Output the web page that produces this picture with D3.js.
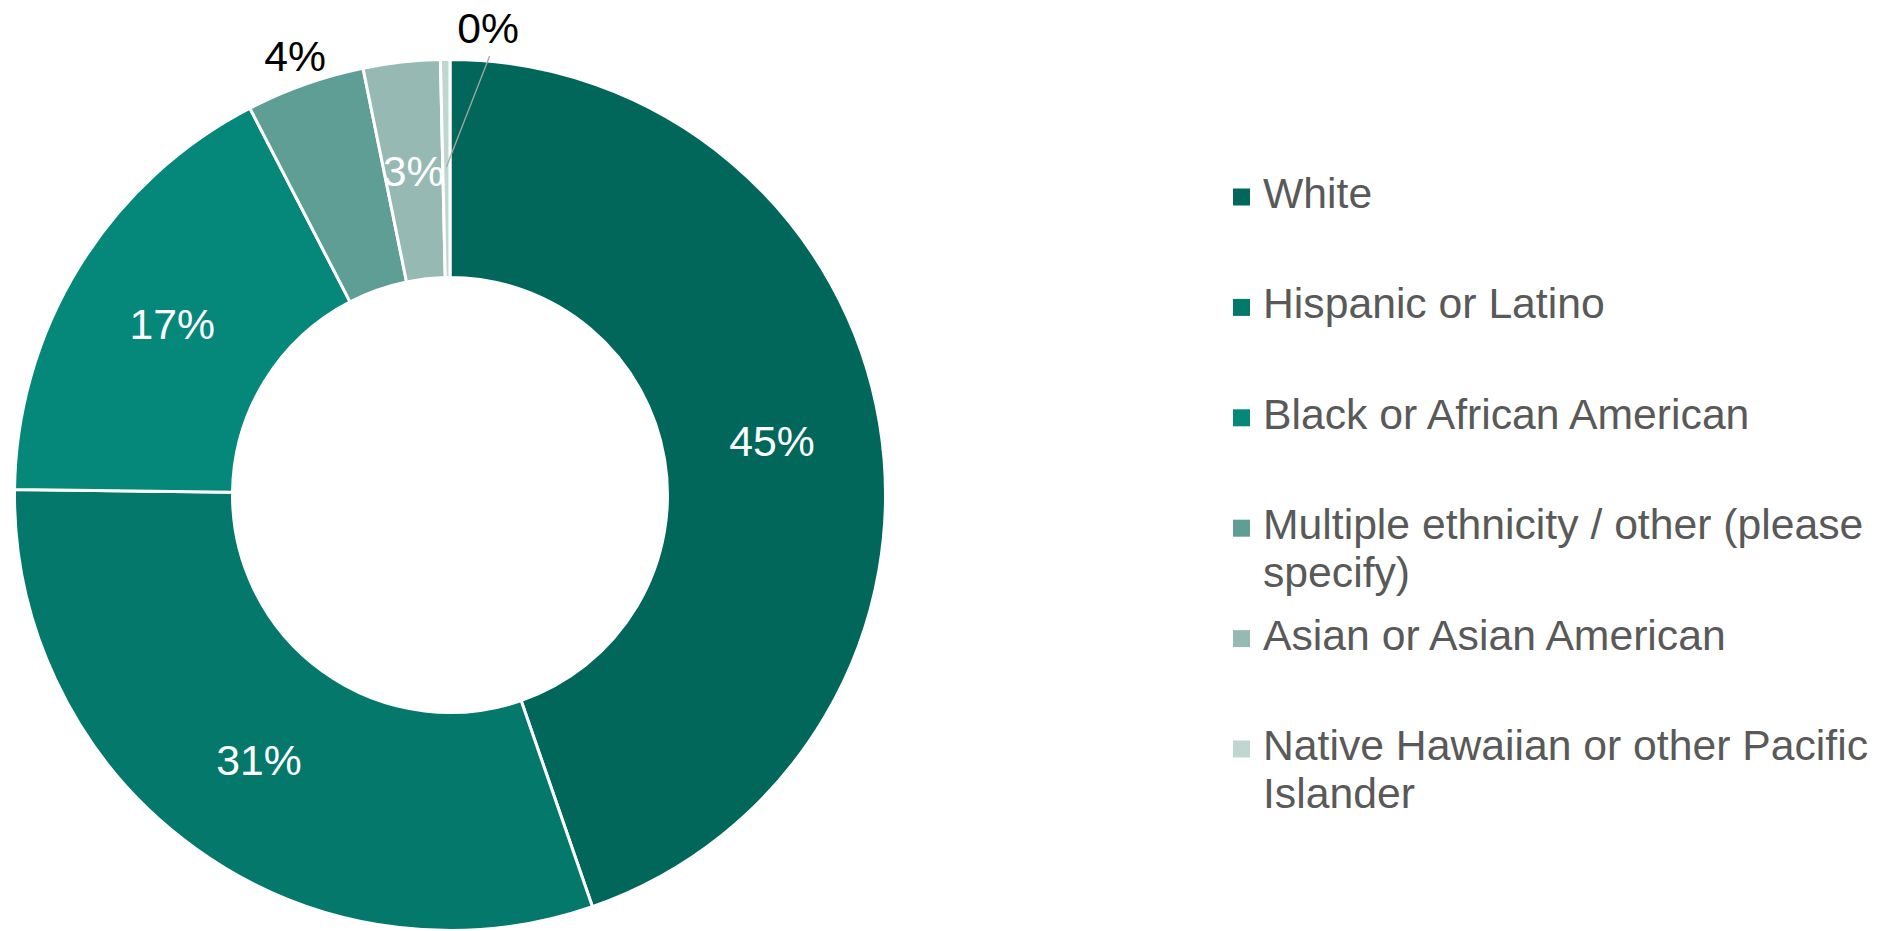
<!DOCTYPE html>
<html>
<head>
<meta charset="utf-8">
<script src="https://cdn.jsdelivr.net/npm/d3@7"></script>
<style>
  html, body { margin: 0; padding: 0; background: #ffffff; }
  svg { display: block; font-family: "Liberation Sans", Arial, sans-serif; }
</style>
</head>
<body>
<svg id="chart" width="1898" height="931"></svg>
<script>
// Respondent ethnicity breakdown (percent of respondents)
const categories = [
  "White",
  "Hispanic or Latino",
  "Black or African American",
  "Multiple ethnicity / other (please specify)",
  "Asian or Asian American",
  "Native Hawaiian or other Pacific Islander"
];
const shares = [44.7, 30.5, 17.2, 4.4, 2.85, 0.35];
const sliceColors = ["#02675B", "#03786B", "#05877A", "#5E9E94", "#97B9B3", "#C0D6D1"];
// how each value label sits relative to its slice
const labelModes = ["inside", "inside", "inside", "outside", "inside", "callout"];

const W = 1898, H = 931;
const cx = 450, cy = 495;
const outerR = 435.5, innerR = 217.5;
const fontSize = 42.7;

const svg = d3.select("#chart");
const g = svg.append("g").attr("transform", `translate(${cx},${cy})`);

const pie = d3.pie().sort(null).value(d => d.value);
const rows = categories.map((c, i) => ({ name: c, value: shares[i], color: sliceColors[i], mode: labelModes[i] }));
const arcs = pie(rows);

const arc = d3.arc().innerRadius(innerR).outerRadius(outerR);

g.selectAll("path.slice")
  .data(arcs)
  .join("path")
  .attr("class", "slice")
  .attr("d", arc)
  .attr("fill", d => d.data.color)
  .attr("stroke", "#ffffff")
  .attr("stroke-width", 3)
  .attr("stroke-linejoin", "miter");

const fmt = v => Math.round(v) + "%";
const midR = (innerR + outerR) / 2;
const polar = (r, a) => [r * Math.sin(a), -r * Math.cos(a)];

arcs.forEach(d => {
  const mid = (d.startAngle + d.endAngle) / 2;
  let pos, fill;
  if (d.data.mode === "inside") {
    pos = polar(midR, mid);
    fill = "#ffffff";
  } else if (d.data.mode === "outside") {
    pos = polar(outerR + 30, mid);
    fill = "#000000";
  } else {
    // label pushed clear of the ring, with a leader back to the slice
    pos = polar(outerR + 33, mid + 0.0925);
    fill = "#000000";
    const anchor = polar(midR + 1.5, mid);
    g.append("line")
      .attr("x1", pos[0] + 1.5)
      .attr("y1", pos[1] + 28)
      .attr("x2", anchor[0])
      .attr("y2", anchor[1])
      .attr("stroke", "#A6A6A6")
      .attr("stroke-width", 1.3);
  }
  g.append("text")
    .attr("x", pos[0])
    .attr("y", pos[1])
    .attr("dy", "0.36em")
    .attr("text-anchor", "middle")
    .attr("font-size", fontSize)
    .attr("fill", fill)
    .text(fmt(d.data.value));
});

// Legend
const legendX = 1233, markerSize = 17, textX = 1263;
const firstBaseline = 208, rowPitch = 110.4, lineHeight = 48, wrapWidth = 620;

const legend = svg.append("g");
rows.forEach((r, i) => {
  const base = firstBaseline + i * rowPitch;
  legend.append("rect")
    .attr("x", legendX)
    .attr("y", base - 11 - markerSize / 2)
    .attr("width", markerSize)
    .attr("height", markerSize)
    .attr("fill", r.color);

  const t = legend.append("text")
    .attr("x", textX)
    .attr("y", base)
    .attr("font-size", fontSize)
    .attr("fill", "#595959");

  // word-wrap the entry to the legend width
  const words = r.name.split(" ");
  let line = [];
  let lineNo = 0;
  let tspan = t.append("tspan").attr("x", textX).attr("y", base);
  words.forEach(w => {
    line.push(w);
    tspan.text(line.join(" "));
    if (tspan.node().getComputedTextLength() > wrapWidth && line.length > 1) {
      line.pop();
      tspan.text(line.join(" "));
      line = [w];
      lineNo += 1;
      tspan = t.append("tspan").attr("x", textX).attr("y", base + lineNo * lineHeight).text(w);
    }
  });
});
</script>
</body>
</html>
